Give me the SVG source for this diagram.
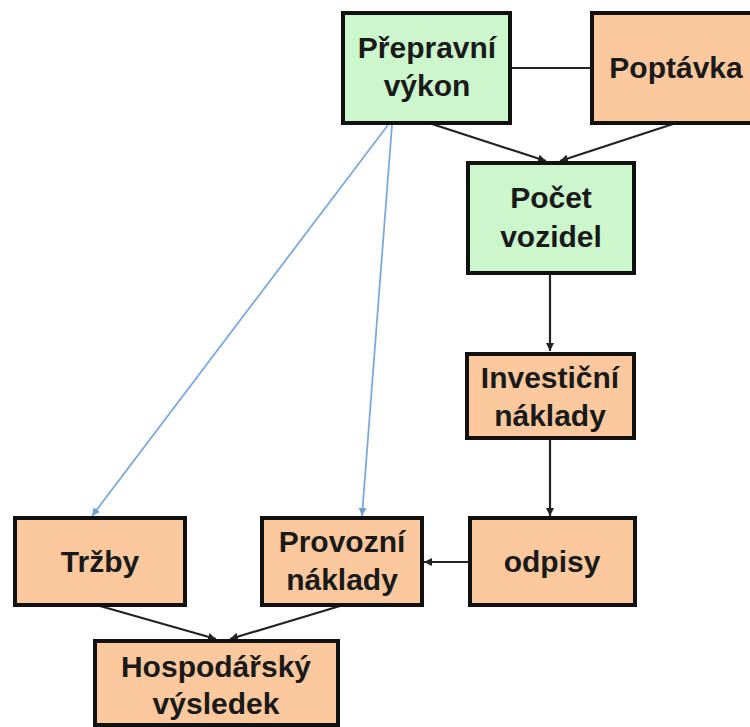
<svg xmlns="http://www.w3.org/2000/svg" width="750" height="727" viewBox="0 0 750 727">
<style>
.g{fill:#ccf7cc;stroke:#111;stroke-width:4}
.o{fill:#fbc99d;stroke:#111;stroke-width:4}
.t{font-family:"Liberation Sans",Arial,sans-serif;font-weight:bold;font-size:30px;fill:#1a1a1a;text-anchor:middle}
.k{stroke:#222;stroke-width:2.2;fill:none}
.b{stroke:#7fa9d8;stroke-width:1.8;fill:none}
</style>
<defs>
<marker id="ak" viewBox="0 0 10 10" refX="10" refY="5" markerWidth="8" markerHeight="8" orient="auto" markerUnits="userSpaceOnUse"><path d="M0,0L10,5L0,10z" fill="#222"/></marker>
<marker id="ab" viewBox="0 0 10 10" refX="10" refY="5" markerWidth="8" markerHeight="8" orient="auto" markerUnits="userSpaceOnUse"><path d="M0,0L10,5L0,10z" fill="#6f9fd4"/></marker>
</defs>
<rect width="750" height="727" fill="#fff"/>
<g id="connectors">
<line class="k" x1="510" y1="68" x2="592" y2="68"/>
<line class="k" x1="432" y1="124" x2="546" y2="161" marker-end="url(#ak)"/>
<line class="k" x1="673" y1="124" x2="560" y2="161" marker-end="url(#ak)"/>
<line class="k" x1="550" y1="275" x2="550" y2="351" marker-end="url(#ak)"/>
<line class="k" x1="550" y1="440" x2="550" y2="516" marker-end="url(#ak)"/>
<line class="k" x1="468" y1="562" x2="424" y2="562" marker-end="url(#ak)"/>
<line class="k" x1="100" y1="606" x2="216" y2="639" marker-end="url(#ak)"/>
<line class="k" x1="340" y1="606" x2="230" y2="639" marker-end="url(#ak)"/>
<line class="b" x1="388" y1="125" x2="92" y2="516" marker-end="url(#ab)"/>
<line class="b" x1="392" y1="125" x2="362" y2="516" marker-end="url(#ab)"/>
</g>
<g id="prepravni-vykon"><rect class="g" x="343" y="13" width="167" height="110"/><text class="t" x="427" y="58">Přepravní</text><text class="t" x="427" y="96">výkon</text></g>
<g id="poptavka"><rect class="o" x="592" y="13" width="170" height="110"/><text class="t" x="676" y="78">Poptávka</text></g>
<g id="pocet-vozidel"><rect class="g" x="468" y="163" width="166" height="110"/><text class="t" x="551" y="208">Počet</text><text class="t" x="551" y="247">vozidel</text></g>
<g id="investicni-naklady"><rect class="o" x="467" y="354" width="167" height="84"/><text class="t" x="550" y="388">Investiční</text><text class="t" x="550" y="426">náklady</text></g>
<g id="trzby"><rect class="o" x="15" y="518" width="170" height="87"/><text class="t" x="100" y="572">Tržby</text></g>
<g id="provozni-naklady"><rect class="o" x="262" y="518" width="160" height="87"/><text class="t" x="342" y="552">Provozní</text><text class="t" x="342" y="590">náklady</text></g>
<g id="odpisy"><rect class="o" x="470" y="518" width="165" height="87"/><text class="t" x="552" y="572">odpisy</text></g>
<g id="hospodarsky-vysledek"><rect class="o" x="95" y="641" width="243" height="84"/><text class="t" x="216" y="677">Hospodářský</text><text class="t" x="216" y="714">výsledek</text></g>
</svg>
